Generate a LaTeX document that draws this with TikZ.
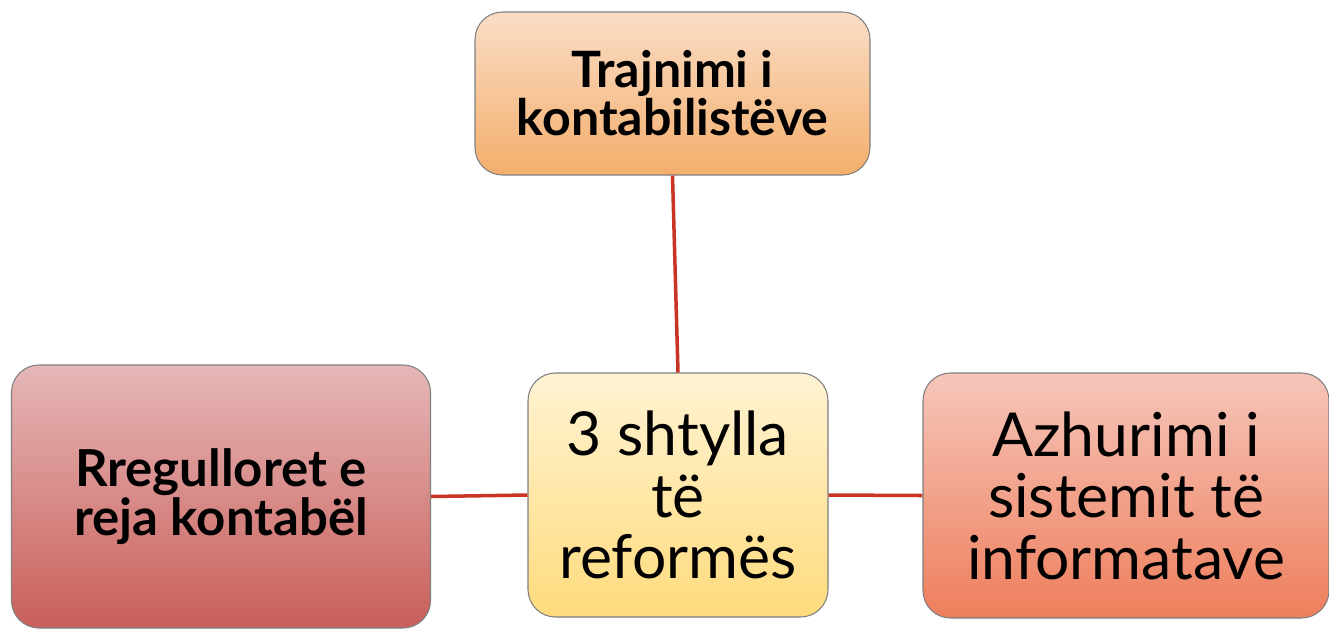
\documentclass[tikz,border=0pt]{standalone}
\usepackage{fontspec}
\setmainfont{Lato}
\usepackage{tikz}
\usetikzlibrary{positioning}

\definecolor{linkred}{HTML}{C93524}
\definecolor{edgegray}{HTML}{7F7F7F}

\begin{document}
\begin{tikzpicture}[-,semithick]
    \tikzstyle{pillar}=[shape=rectangle, rounded corners=0.55cm, draw=edgegray, line width=0.6pt, align=center, text=black, inner sep=0pt]
    \tikzstyle{link}=[draw=linkred, line width=2pt]

\useasboundingbox (0,0) rectangle (26.58,-12.6);

\node[pillar, minimum width=7.9cm, minimum height=3.26cm, font={\fontsize{28.5}{23}\selectfont\bfseries}, top color={rgb,255:red,250;green,221;blue,198}, bottom color={rgb,255:red,244;green,174;blue,107}]
      (train) at (13.45,-1.87)  {Trajnimi i\\kontabilistëve};
\node[pillar, minimum width=6.0cm, minimum height=4.88cm, font={\fontsize{34.5}{35}\selectfont}, top color={rgb,255:red,255;green,243;blue,211}, bottom color={rgb,255:red,255;green,219;blue,124}]
      (hub)   at (13.56,-9.9)   {3 shtylla\\të\\reformës};
\node[pillar, minimum width=8.38cm, minimum height=5.26cm, font={\fontsize{29}{25}\selectfont\bfseries}, top color={rgb,255:red,230;green,183;blue,183}, bottom color={rgb,255:red,201;green,95;blue,90}]
      (rules) at (4.42,-9.93)   {Rregulloret e\\reja kontabël};
\node[pillar, minimum width=8.12cm, minimum height=4.9cm, font={\fontsize{34.5}{35}\selectfont}, top color={rgb,255:red,246;green,198;blue,186}, bottom color={rgb,255:red,238;green,126;blue,92}]
      (info)  at (22.52,-9.91)  {Azhurimi i\\sistemit të\\informatave};

\path[link]
(train.south) -- (hub.north)
(rules.east)  -- (hub.west)
(hub.east)    -- (info.west);
\end{tikzpicture}
\end{document}
